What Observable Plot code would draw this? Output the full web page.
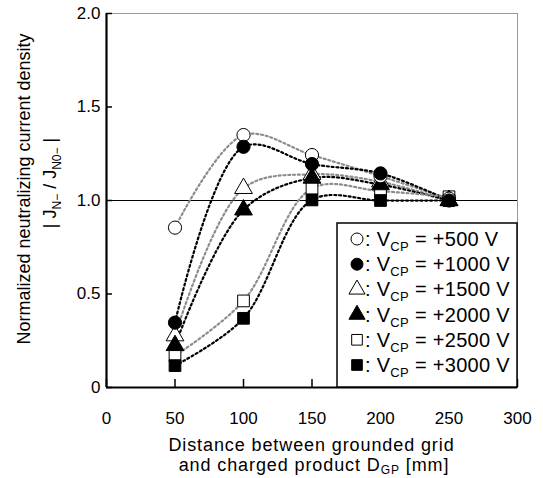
<!DOCTYPE html>
<html><head><meta charset="utf-8">
<script src="https://cdn.jsdelivr.net/npm/d3@7"></script>
<script src="https://cdn.jsdelivr.net/npm/@observablehq/plot@0.6"></script>
<style>
body{margin:0;background:#fff;}
#wrap{position:relative;width:543px;height:478px;}
</style></head><body><div id="wrap"></div>
<script>
// ---- data ----
const distances = [50, 100, 150, 200, 250];
const seriesNames = ["+500 V", "+1000 V", "+1500 V", "+2000 V", "+2500 V", "+3000 V"];
const v500  = [0.855, 1.350, 1.243, 1.130, 1.010];
const v1000 = [0.347, 1.287, 1.195, 1.145, 1.000];
const v1500 = [0.277, 1.065, 1.140, 1.100, 1.000];
const v2000 = [0.225, 0.950, 1.120, 1.085, 1.000];
const v2500 = [0.170, 0.463, 1.065, 1.050, 1.020];
const v3000 = [0.117, 0.370, 1.003, 1.000, 1.000];
const xTicks = [0, 50, 100, 150, 200, 250, 300];
const yTicks = [0, 0.5, 1.0, 1.5, 2.0];
const yLabel1 = "Normalized neutralizing current density";
const xLabel1 = "Distance between grounded grid";

const styles = [
  {symbol: "circle",   fill: "white", line: "#8c8c8c"},
  {symbol: "circle",   fill: "black", line: "black"},
  {symbol: "triangle", fill: "white", line: "#8c8c8c"},
  {symbol: "triangle", fill: "black", line: "black"},
  {symbol: "square",   fill: "white", line: "#8c8c8c"},
  {symbol: "square",   fill: "black", line: "black"}
];
const allValues = [v500, v1000, v1500, v2000, v2500, v3000];
const series = seriesNames.map((name, i) => ({
  name, ...styles[i],
  rows: distances.map((d, j) => ({x: d, y: allValues[i][j]}))
}));
const drawOrder = [4, 5, 2, 3, 0, 1];

const W = 543, H = 478;
const font = "Liberation Sans, Arial, sans-serif";

const plot = Plot.plot({
  width: W, height: H,
  marginLeft: 106, marginRight: 26, marginTop: 13, marginBottom: 91,
  style: {fontFamily: font, background: "white"},
  x: {domain: [0, 300]},
  y: {domain: [0, 2]},
  marks: [
    Plot.frame({stroke: "#999", strokeWidth: 1}),
    Plot.ruleY([1], {stroke: "black", strokeWidth: 1.2}),
    ...series.map(s => Plot.line(s.rows, {
      x: "x", y: "y", curve: "catmull-rom",
      stroke: s.line, strokeWidth: 2.2, strokeDasharray: "2 2.8"
    })),
    ...drawOrder.map(i => Plot.dot(series[i].rows, {
      x: "x", y: "y", symbol: series[i].symbol,
      fill: series[i].fill, stroke: "black", strokeWidth: 1,
      r: 6.6
    })),
    Plot.ruleX([0], {stroke: "black", strokeWidth: 2.2}),
    Plot.ruleY([0], {stroke: "black", strokeWidth: 2.2}),
    Plot.axisY({ticks: yTicks, tickSize: -6, tickPadding: 12, strokeWidth: 1.5,
      tickFormat: d => d === 0 ? "0" : d.toFixed(1), fontSize: 17, fill: "black", label: null}),
    Plot.axisX({ticks: xTicks, tickSize: -8, tickPadding: 32, strokeWidth: 1.5,
      tickFormat: d => String(d), fontSize: 17, fill: "black", label: null})
  ]
});
document.getElementById("wrap").appendChild(plot);

// ---- titles and legend ----
const svg = d3.select(plot);
const g = svg.append("g").attr("fill", "black").attr("text-anchor", "middle");

// y title
const yt = g.append("text").attr("transform", "translate(30,189) rotate(-90)")
  .attr("font-size", 18).attr("font-family", font);
yt.text(yLabel1);
const yt2 = g.append("text").attr("transform", "translate(56,183) rotate(-90)")
  .attr("font-size", 18).attr("font-family", font);
yt2.append("tspan").text("| J");
yt2.append("tspan").attr("dy", 5).attr("font-size", 12).text("N\u2212");
yt2.append("tspan").attr("dy", -5).text(" / J");
yt2.append("tspan").attr("dy", 5).attr("font-size", 12).text("N0\u2212");
yt2.append("tspan").attr("dy", -5).text(" |");

// x title
g.append("text").attr("x", 311.5).attr("y", 451)
  .attr("font-size", 18).attr("letter-spacing", 0.9).attr("font-family", font).text(xLabel1);
const xt2 = g.append("text").attr("x", 314).attr("y", 471)
  .attr("font-size", 18).attr("letter-spacing", 0.9).attr("font-family", font);
xt2.append("tspan").text("and charged product D");
xt2.append("tspan").attr("dy", 3).attr("font-size", 12).text("GP");
xt2.append("tspan").attr("dy", -3).text(" [mm]");

// legend
const lg = svg.append("g").attr("text-anchor", "start");
lg.append("rect").attr("x", 337).attr("y", 223).attr("width", 180).attr("height", 164)
  .attr("fill", "white").attr("stroke", "black").attr("stroke-width", 1.5);
const symMap = {circle: d3.symbolCircle, triangle: d3.symbolTriangle, square: d3.symbolSquare};
series.forEach((s, i) => {
  const cy = 239 + i * 25.2;
  lg.append("path").attr("d", d3.symbol(symMap[s.symbol], Math.PI * 6 * 6)())
    .attr("transform", `translate(357,${cy})`)
    .attr("fill", s.fill).attr("stroke", "black").attr("stroke-width", 1);
  const t = lg.append("text").attr("x", 365).attr("y", cy + 7).attr("font-size", 20)
    .attr("letter-spacing", 0.3)
    .attr("font-family", font).attr("fill", "black").attr("text-anchor", "start");
  t.append("tspan").text(": V");
  t.append("tspan").attr("dy", 5).attr("font-size", 13).text("CP");
  t.append("tspan").attr("dy", -5).text(" = " + s.name);
});
</script>
</body></html>
